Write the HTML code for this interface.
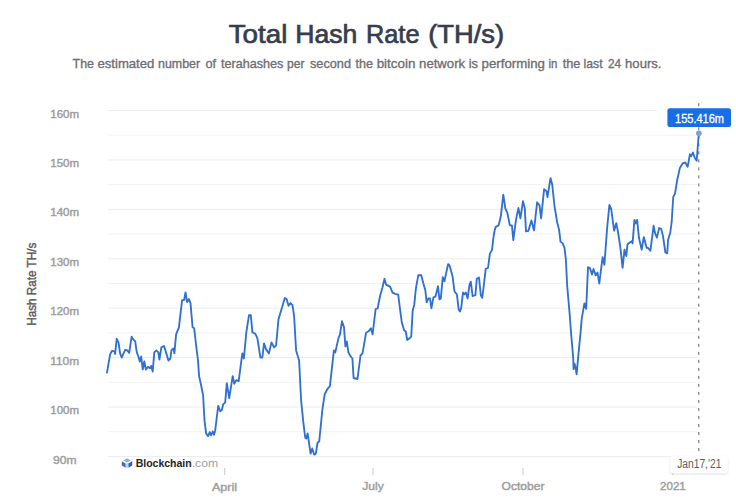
<!DOCTYPE html>
<html><head><meta charset="utf-8"><style>
html,body{margin:0;padding:0;background:#fff;}
body{width:736px;height:497px;overflow:hidden;position:relative;font-family:"Liberation Sans",sans-serif;}
svg{position:absolute;left:0;top:0;}
text{font-family:"Liberation Sans",sans-serif;}
</style></head><body>
<svg width="736" height="497" viewBox="0 0 736 497">
<g font-size="26" fill="#363d4e" stroke="#363d4e" stroke-width="0.7"><text x="228.72" y="42.8" textLength="58.58" lengthAdjust="spacingAndGlyphs">Total</text><text x="295.34" y="42.8" textLength="62.04" lengthAdjust="spacingAndGlyphs">Hash</text><text x="365.98" y="42.8" textLength="53.52" lengthAdjust="spacingAndGlyphs">Rate</text><text x="428.20" y="42.8" textLength="75.88" lengthAdjust="spacingAndGlyphs">(TH/s)</text></g><g font-size="13.1" fill="#6e6e72" stroke="#6e6e72" stroke-width="0.35"><text x="72.58" y="67.9" textLength="21.34" lengthAdjust="spacingAndGlyphs">The</text><text x="97.46" y="67.9" textLength="56.92" lengthAdjust="spacingAndGlyphs">estimated</text><text x="158.00" y="67.9" textLength="42.12" lengthAdjust="spacingAndGlyphs">number</text><text x="205.46" y="67.9" textLength="10.58" lengthAdjust="spacingAndGlyphs">of</text><text x="220.96" y="67.9" textLength="62.46" lengthAdjust="spacingAndGlyphs">terahashes</text><text x="287.12" y="67.9" textLength="17.50" lengthAdjust="spacingAndGlyphs">per</text><text x="310.00" y="67.9" textLength="40.96" lengthAdjust="spacingAndGlyphs">second</text><text x="355.46" y="67.9" textLength="17.50" lengthAdjust="spacingAndGlyphs">the</text><text x="376.66" y="67.9" textLength="38.76" lengthAdjust="spacingAndGlyphs">bitcoin</text><text x="419.12" y="67.9" textLength="46.00" lengthAdjust="spacingAndGlyphs">network</text><text x="468.66" y="67.9" textLength="9.30" lengthAdjust="spacingAndGlyphs">is</text><text x="481.58" y="67.9" textLength="63.34" lengthAdjust="spacingAndGlyphs">performing</text><text x="548.54" y="67.9" textLength="8.92" lengthAdjust="spacingAndGlyphs">in</text><text x="562.84" y="67.9" textLength="17.58" lengthAdjust="spacingAndGlyphs">the</text><text x="583.54" y="67.9" textLength="19.12" lengthAdjust="spacingAndGlyphs">last</text><text x="607.96" y="67.9" textLength="13.16" lengthAdjust="spacingAndGlyphs">24</text><text x="625.12" y="67.9" textLength="36.30" lengthAdjust="spacingAndGlyphs">hours.</text></g>

<g stroke-width="1"><line x1="108" x2="697" y1="110.50" y2="110.50" stroke="#ececec"/><line x1="108" x2="697" y1="135.21" y2="135.21" stroke="#f2f2f2"/><line x1="108" x2="697" y1="159.92" y2="159.92" stroke="#ececec"/><line x1="108" x2="697" y1="184.63" y2="184.63" stroke="#f2f2f2"/><line x1="108" x2="697" y1="209.34" y2="209.34" stroke="#ececec"/><line x1="108" x2="697" y1="234.05" y2="234.05" stroke="#f2f2f2"/><line x1="108" x2="697" y1="258.76" y2="258.76" stroke="#ececec"/><line x1="108" x2="697" y1="283.47" y2="283.47" stroke="#f2f2f2"/><line x1="108" x2="697" y1="308.18" y2="308.18" stroke="#ececec"/><line x1="108" x2="697" y1="332.89" y2="332.89" stroke="#f2f2f2"/><line x1="108" x2="697" y1="357.60" y2="357.60" stroke="#ececec"/><line x1="108" x2="697" y1="382.31" y2="382.31" stroke="#f2f2f2"/><line x1="108" x2="697" y1="407.02" y2="407.02" stroke="#ececec"/><line x1="108" x2="697" y1="431.73" y2="431.73" stroke="#f2f2f2"/><line x1="108" x2="697" y1="456.44" y2="456.44" stroke="#ececec"/></g>
<g font-size="11.3" fill="#9e9e9e" stroke="#9e9e9e" stroke-width="0.45" text-anchor="middle"><text x="64.7" y="117.60" textLength="28.8" lengthAdjust="spacingAndGlyphs">160m</text><text x="64.7" y="167.02" textLength="28.8" lengthAdjust="spacingAndGlyphs">150m</text><text x="64.7" y="216.44" textLength="28.8" lengthAdjust="spacingAndGlyphs">140m</text><text x="64.7" y="265.86" textLength="28.8" lengthAdjust="spacingAndGlyphs">130m</text><text x="64.7" y="315.28" textLength="28.8" lengthAdjust="spacingAndGlyphs">120m</text><text x="64.7" y="364.70" textLength="28.8" lengthAdjust="spacingAndGlyphs">110m</text><text x="64.7" y="414.12" textLength="28.8" lengthAdjust="spacingAndGlyphs">100m</text><text x="64.7" y="463.54" textLength="23.6" lengthAdjust="spacingAndGlyphs">90m</text></g>
<text transform="translate(35.6 284.2) rotate(-90)" text-anchor="middle" font-size="12" fill="#5a5a5a" stroke="#5a5a5a" stroke-width="0.4" textLength="83" lengthAdjust="spacingAndGlyphs">Hash Rate TH/s</text>
<g stroke="#c8c8c8" stroke-width="1"><line x1="224.7" x2="224.7" y1="468" y2="475"/><line x1="373" x2="373" y1="468" y2="475"/><line x1="523" x2="523" y1="468" y2="475"/><line x1="672.9" x2="672.9" y1="468" y2="475"/></g>
<g font-size="11.5" fill="#9e9e9e" stroke="#9e9e9e" stroke-width="0.45" text-anchor="middle" lengthAdjust="spacingAndGlyphs"><text x="224.5" y="490.5" textLength="25" lengthAdjust="spacingAndGlyphs">April</text><text x="373" y="490.3" textLength="21.6" lengthAdjust="spacingAndGlyphs">July</text><text x="523" y="490.3" textLength="43" lengthAdjust="spacingAndGlyphs">October</text><text x="672.9" y="490.3" textLength="25.8" lengthAdjust="spacingAndGlyphs">2021</text></g>
<rect x="656.5" y="105.5" width="80" height="24" fill="#fff"/><line x1="698.8" x2="698.8" y1="103.2" y2="454" stroke="#606060" stroke-width="1" stroke-dasharray="3 5.02"/>
<path d="M107.0 372.6 L110.1 354.4 L112.1 350.8 L114.5 351.4 L115.1 354.0 L116.7 338.8 L118.5 342.4 L120.1 353.4 L121.7 357.5 L123.1 354.4 L125.2 349.8 L127.2 350.4 L129.2 352.8 L131.6 336.7 L133.2 339.4 L135.2 341.4 L136.8 352.4 L138.2 356.0 L139.8 361.5 L141.2 356.5 L142.7 369.5 L144.3 361.5 L145.9 369.5 L147.9 366.9 L149.9 368.1 L151.3 366.1 L152.7 371.5 L154.3 352.4 L156.3 350.4 L158.4 352.4 L159.4 359.5 L161.4 347.4 L164.0 346.0 L166.0 352.4 L168.4 360.5 L170.4 358.5 L171.4 350.4 L173.4 348.4 L174.4 353.4 L176.1 334.3 L178.9 327.3 L182.1 300.1 L184.1 300.1 L185.5 292.5 L187.1 302.1 L188.9 299.1 L190.5 303.1 L192.6 327.3 L194.2 328.3 L196.0 344.4 L198.0 360.5 L199.1 376.1 L201.1 385.2 L203.1 395.2 L204.5 420.4 L206.1 433.4 L208.1 436.1 L209.7 432.0 L211.1 435.5 L212.7 431.4 L214.1 434.8 L215.2 430.4 L218.2 405.9 L220.2 411.3 L221.8 410.3 L223.2 404.3 L225.2 402.3 L226.8 383.1 L229.2 398.2 L232.7 376.1 L234.3 383.7 L236.3 380.1 L238.7 381.1 L242.3 353.4 L243.9 358.5 L246.3 332.3 L249.0 315.2 L250.8 315.2 L252.4 332.3 L255.4 333.9 L257.4 338.4 L260.4 357.5 L262.4 357.5 L264.0 343.4 L266.1 349.4 L268.9 353.4 L271.5 342.4 L274.1 347.4 L276.1 345.4 L278.5 319.2 L280.9 311.2 L284.8 297.9 L286.6 299.1 L288.5 305.8 L290.5 303.1 L292.5 305.2 L294.1 316.2 L296.1 350.4 L299.1 360.5 L301.1 400.2 L303.1 420.4 L305.2 437.5 L306.2 438.5 L307.6 433.4 L310.6 453.6 L312.2 448.5 L314.2 454.6 L315.8 453.6 L317.6 442.5 L319.2 441.5 L322.3 410.3 L324.7 394.2 L327.3 389.2 L329.9 386.2 L333.9 350.4 L335.3 352.4 L338.4 338.4 L340.0 334.3 L342.0 321.2 L344.0 327.3 L345.4 346.4 L346.8 341.4 L348.4 352.4 L350.4 356.0 L352.4 358.5 L353.6 378.0 L357.5 379.0 L360.5 355.5 L362.5 353.4 L366.1 332.7 L368.5 331.3 L370.9 328.3 L372.6 334.3 L375.6 309.2 L377.6 308.5 L380.0 296.2 L382.5 287.3 L384.5 278.8 L386.1 284.7 L390.1 286.7 L392.5 292.7 L395.2 293.9 L398.2 294.7 L400.2 310.4 L401.8 322.5 L404.2 330.5 L405.8 331.5 L407.2 340.0 L409.2 338.6 L411.2 336.6 L412.7 310.4 L414.3 304.4 L415.9 288.3 L418.3 275.2 L421.3 275.2 L423.3 283.3 L425.3 290.3 L426.7 302.4 L428.4 298.4 L430.0 298.4 L431.4 308.4 L433.4 297.3 L435.4 296.7 L438.0 286.3 L439.4 299.4 L440.8 298.4 L442.8 277.2 L444.4 281.2 L448.1 264.1 L449.5 265.2 L452.5 276.2 L454.5 291.5 L456.9 294.3 L458.7 309.7 L460.0 311.5 L461.2 307.9 L463.0 292.5 L464.5 294.3 L465.9 292.5 L467.6 298.5 L469.6 284.3 L470.8 281.6 L472.6 296.1 L475.4 295.2 L476.8 278.9 L479.0 277.5 L480.8 295.2 L482.2 297.9 L483.5 288.0 L485.7 268.9 L488.0 268.0 L489.9 253.6 L492.0 249.9 L493.5 237.2 L494.5 231.0 L495.8 226.8 L498.6 225.4 L500.8 216.3 L503.3 194.6 L505.3 208.3 L507.3 212.7 L509.9 225.4 L511.9 225.4 L513.3 240.1 L515.9 220.4 L518.4 207.9 L520.4 218.4 L523.0 201.2 L524.8 208.3 L526.0 231.4 L528.4 230.8 L531.4 220.4 L534.0 230.4 L537.1 202.3 L539.5 205.3 L541.1 218.4 L544.1 189.2 L546.5 191.2 L547.5 197.2 L550.5 178.1 L552.2 184.5 L554.5 206.2 L557.2 222.5 L559.1 229.8 L560.5 241.6 L562.7 243.4 L564.5 247.9 L565.9 260.0 L567.2 286.2 L569.6 313.4 L571.4 337.0 L573.1 356.6 L573.6 369.1 L574.6 363.8 L575.7 368.4 L576.6 374.3 L578.6 352.7 L580.5 333.1 L581.7 318.8 L584.4 303.4 L586.2 308.9 L588.0 267.2 L589.9 268.1 L592.0 274.5 L593.5 269.0 L595.7 275.4 L597.5 272.6 L599.3 283.5 L602.6 257.1 L604.4 264.8 L607.2 227.1 L609.4 205.0 L611.2 209.0 L614.1 230.7 L616.3 223.1 L618.1 232.5 L620.3 247.0 L622.6 267.9 L624.5 249.7 L626.3 256.1 L627.5 244.3 L629.9 242.5 L631.7 241.2 L632.6 243.4 L634.4 219.9 L635.9 223.5 L637.1 219.9 L639.0 238.0 L641.7 249.7 L643.8 237.1 L646.7 247.9 L648.0 247.9 L650.4 250.7 L653.6 225.8 L655.1 233.4 L656.9 237.6 L659.1 228.0 L661.2 228.9 L663.0 236.2 L665.4 252.5 L667.2 253.4 L668.1 239.8 L670.3 232.5 L671.7 221.7 L673.2 197.2 L675.0 193.6 L677.2 180.0 L679.9 167.9 L682.6 163.4 L685.3 162.5 L687.7 166.7 L689.9 154.3 L691.3 156.2 L692.9 152.5 L694.9 158.0 L696.7 160.7 L698.0 143.5 L698.9 133.2" fill="none" stroke="#3070d2" stroke-width="1.85" stroke-linejoin="round" stroke-linecap="round"/>
<circle cx="698.9" cy="133.2" r="2.8" fill="#7d9ddb"/>
<rect x="667.4" y="108.2" width="63.6" height="18.8" rx="2.5" fill="#186ee8"/>
<text x="699.5" y="122.6" text-anchor="middle" font-size="12" fill="#fff" stroke="#fff" stroke-width="0.3" textLength="49" lengthAdjust="spacingAndGlyphs">155.416m</text>
<rect x="670.2" y="455.9" width="57.5" height="17.4" rx="2" fill="#fff" style="filter:drop-shadow(0 1px 1px rgba(0,0,0,0.12))"/>
<text x="699.25" y="467.5" text-anchor="middle" font-size="12" fill="#5c5c5c" textLength="44.2" lengthAdjust="spacingAndGlyphs">Jan17,'21</text>
<path d="M127 458.2 L130.8 460.4 L127 462.6 L123.2 460.4 Z" fill="#8eacdf"/><path d="M121.8 461.3 L125.7 463.5 L125.7 467.8 L121.8 465.6 Z" fill="#4069b6"/><path d="M132.2 461.3 L128.3 463.5 L128.3 467.8 L132.2 465.6 Z" fill="#2f5cab"/><rect x="125.7" y="463.5" width="2.6" height="4.3" fill="#bcd0ef"/>
<text x="135.7" y="467.1" font-size="11.2" font-weight="bold" fill="#222" textLength="56" lengthAdjust="spacingAndGlyphs">Blockchain</text><text x="191.7" y="467.1" font-size="11.2" fill="#a0a0a0" textLength="26.5" lengthAdjust="spacingAndGlyphs">.com</text>
</svg>
</body></html>
